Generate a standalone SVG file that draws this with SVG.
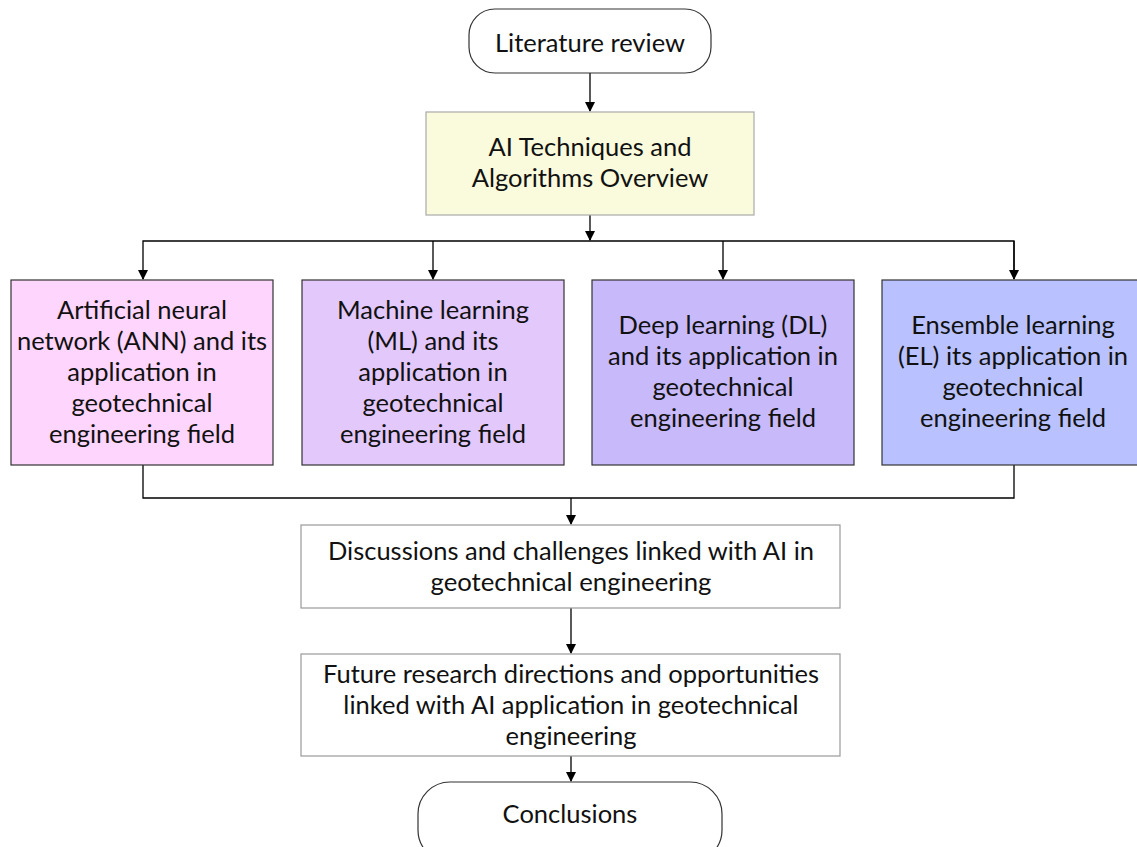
<svg xmlns="http://www.w3.org/2000/svg" width="1137" height="847" viewBox="0 0 1137 847">
<defs>
<marker id="ah" markerWidth="10" markerHeight="10" refX="9" refY="5" orient="auto" markerUnits="userSpaceOnUse">
<path d="M0,0 L10,5 L0,10 z" fill="#000"/>
</marker>
<style>
.t{font-family:Lato,"Open Sans","Liberation Sans",sans-serif;font-size:25.5px;fill:#111;text-anchor:middle}
.b{stroke:#333;stroke-width:1.2}
.g{stroke:#999;stroke-width:1.2;fill:#fff}
.c{fill:none;stroke:#000;stroke-width:1.3}
</style>
</defs>
<rect width="1137" height="847" fill="#fff"/>
<g id="connectors">
<path class="c" d="M590,73 V111" marker-end="url(#ah)"/>
<path class="c" d="M590,215 V240"/>
<path class="c" d="M590,231 V240" marker-end="url(#ah)"/>
<path class="c" d="M143,279 V241 H1014 V279"/>
<path class="c" d="M143,271 V279" marker-end="url(#ah)"/>
<path class="c" d="M433,241 V279" marker-end="url(#ah)"/>
<path class="c" d="M723,241 V279" marker-end="url(#ah)"/>
<path class="c" d="M1014,241 V279" marker-end="url(#ah)"/>
<path class="c" d="M143,465 V498 H1014 V465"/>
<path class="c" d="M571,498 V524" marker-end="url(#ah)"/>
<path class="c" d="M571,608 V653" marker-end="url(#ah)"/>
<path class="c" d="M571,756 V781" marker-end="url(#ah)"/>
</g>
<g id="literature">
<rect x="469" y="9" width="242" height="64" rx="26" fill="#fff" class="b"/>
<text class="t" x="590" y="52">Literature review</text>
</g>
<g id="ai">
<rect x="426" y="112" width="328" height="103" fill="#FAFADC" stroke="#aaa" stroke-width="1.2"/>
<text class="t" x="590" y="156">AI Techniques and</text>
<text class="t" x="590" y="187">Algorithms Overview</text>
</g>
<g id="ann">
<rect x="11" y="280" width="262" height="185" fill="#FDD5FD" class="b"/>
<text class="t" x="142" y="319">Artificial neural</text>
<text class="t" x="142" y="350">network (ANN) and its</text>
<text class="t" x="142" y="381">application in</text>
<text class="t" x="142" y="412">geotechnical</text>
<text class="t" x="142" y="443">engineering field</text>
</g>
<g id="ml">
<rect x="302" y="280" width="262" height="185" fill="#E3C8FC" class="b"/>
<text class="t" x="433" y="319">Machine learning</text>
<text class="t" x="433" y="350">(ML) and its</text>
<text class="t" x="433" y="381">application in</text>
<text class="t" x="433" y="412">geotechnical</text>
<text class="t" x="433" y="443">engineering field</text>
</g>
<g id="dl">
<rect x="592" y="280" width="262" height="185" fill="#C8B9FA" class="b"/>
<text class="t" x="723" y="334">Deep learning (DL)</text>
<text class="t" x="723" y="365">and its application in</text>
<text class="t" x="723" y="396">geotechnical</text>
<text class="t" x="723" y="427">engineering field</text>
</g>
<g id="el">
<rect x="882" y="280" width="262" height="185" fill="#B9C2FE" class="b"/>
<text class="t" x="1013" y="334">Ensemble learning</text>
<text class="t" x="1013" y="365">(EL) its application in</text>
<text class="t" x="1013" y="396">geotechnical</text>
<text class="t" x="1013" y="427">engineering field</text>
</g>
<g id="discussions">
<rect x="301" y="525" width="539" height="83" class="g"/>
<text class="t" x="571" y="560" textLength="486" lengthAdjust="spacingAndGlyphs">Discussions and challenges linked with AI in</text>
<text class="t" x="571" y="591" textLength="281" lengthAdjust="spacingAndGlyphs">geotechnical engineering</text>
</g>
<g id="future">
<rect x="301" y="654" width="539" height="102" class="g"/>
<text class="t" x="571" y="683">Future research directions and opportunities</text>
<text class="t" x="571" y="714">linked with AI application in geotechnical</text>
<text class="t" x="571" y="745">engineering</text>
</g>
<g id="conclusions">
<rect x="418" y="782" width="304" height="80" rx="32" fill="#fff" class="b"/>
<text class="t" x="570" y="823">Conclusions</text>
</g>
</svg>
